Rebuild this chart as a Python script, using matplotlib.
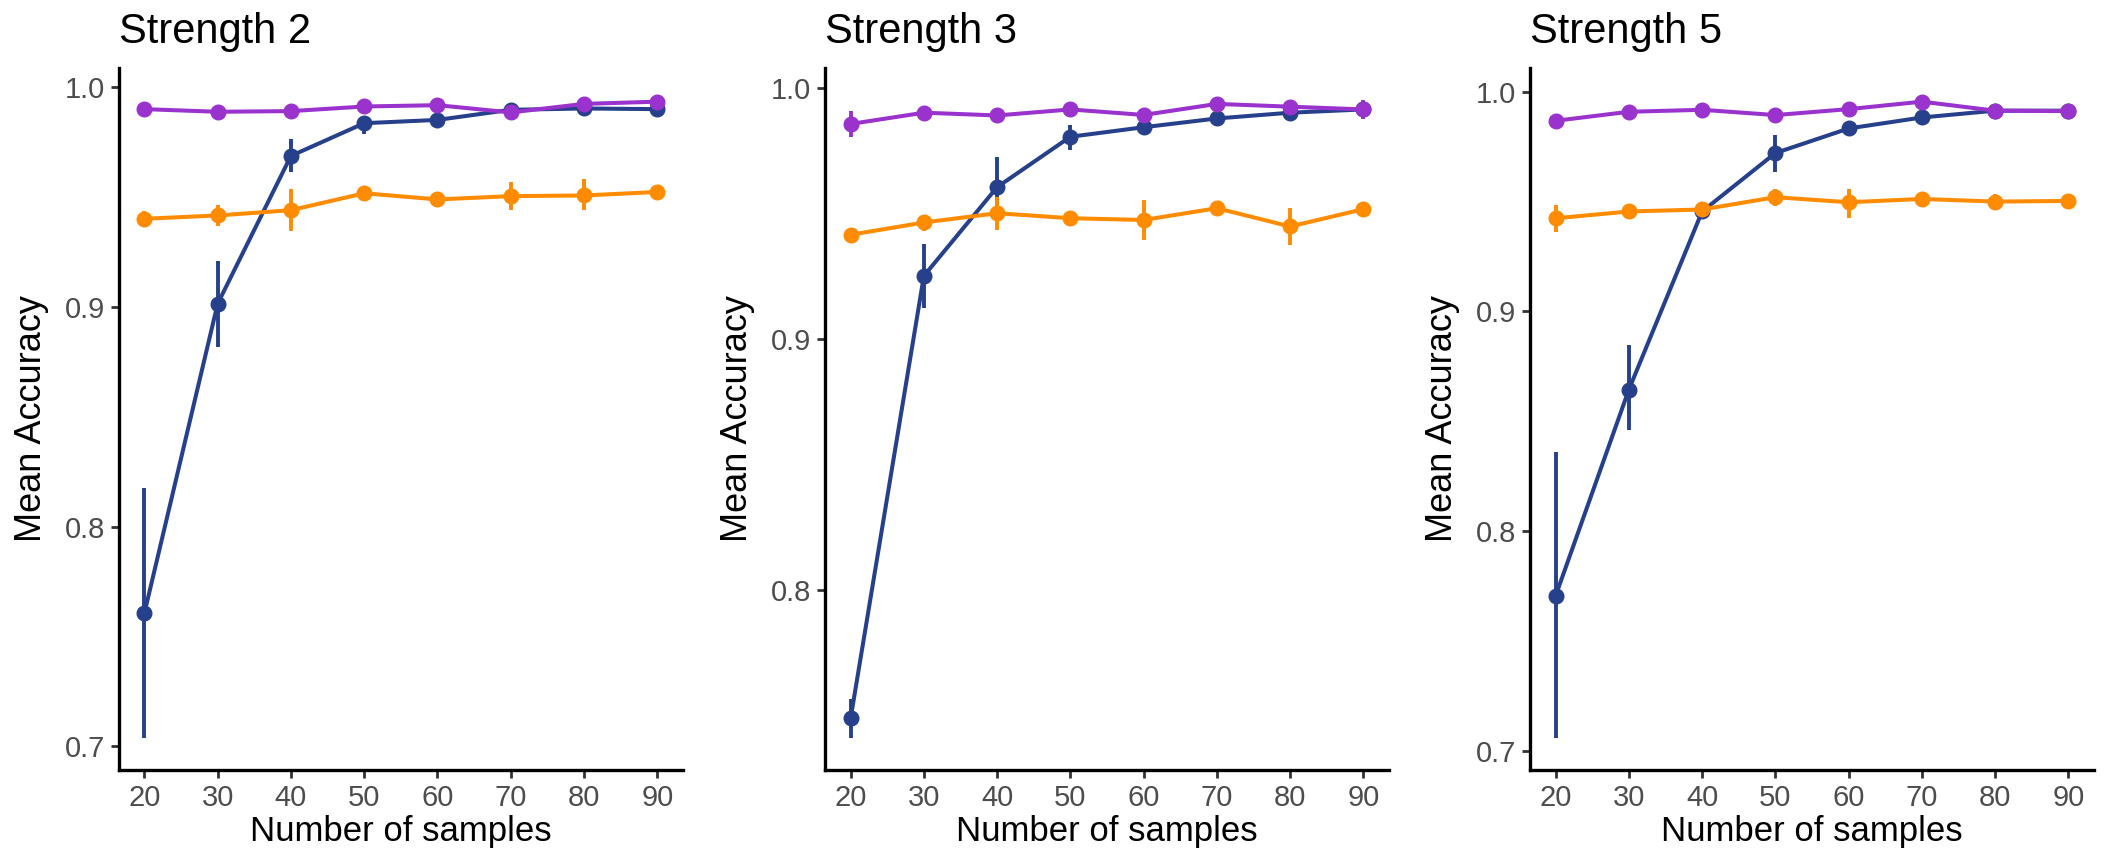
import numpy as np
import matplotlib
matplotlib.use("Agg")
import matplotlib.pyplot as plt

plt.rcParams['font.family'] = ['Liberation Sans', 'DejaVu Sans']

samples = [20, 30, 40, 50, 60, 70, 80, 90]
titles = ["Strength 2", "Strength 3", "Strength 5"]

# strength 2
s2_purple = [0.9901, 0.9889, 0.9892, 0.9913, 0.9919, 0.9886, 0.9925, 0.9935]
s2_purple_lo = [0.9893, 0.9881, 0.9884, 0.9905, 0.9911, 0.9878, 0.9917, 0.9927]
s2_purple_hi = [0.9909, 0.9897, 0.9900, 0.9921, 0.9927, 0.9894, 0.9933, 0.9943]
s2_blue = [0.7606, 0.9015, 0.9688, 0.9837, 0.9852, 0.9898, 0.9904, 0.9901]
s2_blue_lo = [0.7038, 0.8820, 0.9615, 0.9787, 0.9835, 0.9888, 0.9895, 0.9892]
s2_blue_hi = [0.8175, 0.9209, 0.9764, 0.9863, 0.9868, 0.9908, 0.9913, 0.9910]
s2_orange = [0.9402, 0.9417, 0.9441, 0.9518, 0.9490, 0.9505, 0.9508, 0.9524]
s2_orange_lo = [0.9366, 0.9368, 0.9346, 0.9505, 0.9478, 0.9441, 0.9441, 0.9512]
s2_orange_hi = [0.9438, 0.9463, 0.9536, 0.9531, 0.9502, 0.9569, 0.9581, 0.9536]

# strength 3
s3_purple = [0.9858, 0.9903, 0.9892, 0.9916, 0.9894, 0.9938, 0.9927, 0.9916]
s3_purple_lo = [0.9808, 0.9893, 0.9882, 0.9906, 0.9884, 0.9928, 0.9917, 0.9878]
s3_purple_hi = [0.9908, 0.9913, 0.9902, 0.9926, 0.9904, 0.9948, 0.9937, 0.9954]
s3_blue = [0.7487, 0.9252, 0.9606, 0.9807, 0.9845, 0.9880, 0.9903, 0.9916]
s3_blue_lo = [0.7408, 0.9124, 0.9502, 0.9754, 0.9815, 0.9870, 0.9893, 0.9906]
s3_blue_hi = [0.7564, 0.9380, 0.9728, 0.9854, 0.9868, 0.9890, 0.9913, 0.9926]
s3_orange = [0.9416, 0.9465, 0.9502, 0.9482, 0.9475, 0.9522, 0.9449, 0.9518]
s3_orange_lo = [0.9383, 0.9432, 0.9436, 0.9472, 0.9396, 0.9512, 0.9376, 0.9508]
s3_orange_hi = [0.9443, 0.9495, 0.9568, 0.9492, 0.9555, 0.9532, 0.9522, 0.9528]

# strength 5
s5_purple = [0.9868, 0.9909, 0.9918, 0.9894, 0.9921, 0.9955, 0.9914, 0.9912]
s5_purple_lo = [0.9860, 0.9901, 0.9910, 0.9886, 0.9913, 0.9947, 0.9906, 0.9904]
s5_purple_hi = [0.9876, 0.9917, 0.9926, 0.9902, 0.9929, 0.9963, 0.9922, 0.9920]
s5_blue = [0.7705, 0.8644, 0.9455, 0.9721, 0.9833, 0.9883, 0.9914, 0.9914]
s5_blue_lo = [0.7057, 0.8458, 0.9425, 0.9636, 0.9823, 0.9861, 0.9904, 0.9904]
s5_blue_hi = [0.8360, 0.8845, 0.9485, 0.9803, 0.9843, 0.9906, 0.9924, 0.9924]
s5_orange = [0.9424, 0.9455, 0.9464, 0.9520, 0.9497, 0.9512, 0.9500, 0.9503]
s5_orange_lo = [0.9361, 0.9425, 0.9454, 0.9482, 0.9424, 0.9502, 0.9465, 0.9493]
s5_orange_hi = [0.9485, 0.9485, 0.9474, 0.9558, 0.9558, 0.9522, 0.9535, 0.9513]

panels = [
    [(s2_blue, s2_blue_lo, s2_blue_hi), (s2_orange, s2_orange_lo, s2_orange_hi), (s2_purple, s2_purple_lo, s2_purple_hi)],
    [(s3_blue, s3_blue_lo, s3_blue_hi), (s3_orange, s3_orange_lo, s3_orange_hi), (s3_purple, s3_purple_lo, s3_purple_hi)],
    [(s5_blue, s5_blue_lo, s5_blue_hi), (s5_orange, s5_orange_lo, s5_orange_hi), (s5_purple, s5_purple_lo, s5_purple_hi)],
]
colors = ["#27408B", "#FF8C00", "#9A32CD"]

W, H = 2106, 856
fig = plt.figure(figsize=(W / 100, H / 100), dpi=100)
boxes = [(118.7, 683), (825, 1389), (1530, 2094)]
top, bottom = 68, 770

for i, (x0, x1) in enumerate(boxes):
    ax = fig.add_axes([x0 / W, (H - bottom) / H, (x1 - x0) / W, (bottom - top) / H])
    allv = []
    for (m, lo, hi), c in zip(panels[i], colors):
        m = np.array(m); lo = np.array(lo); hi = np.array(hi)
        allv += list(lo) + list(hi)
        ax.errorbar(samples, m, yerr=[m - lo, hi - m], color=c, lw=2.9,
                    elinewidth=2.8, marker="o", ms=10.5, capsize=0)
    lo_all, hi_all = min(allv), max(allv)
    pad = 0.05 * (hi_all - lo_all)
    ax.set_xlim(16.5, 93.5)
    ax.set_xticks(samples)
    ax.set_yticks([0.7, 0.8, 0.9, 1.0])
    ax.set_yticklabels(["0.7", "0.8", "0.9", "1.0"])
    ax.set_ylim(lo_all - pad, hi_all + pad)
    for s in ["top", "right"]:
        ax.spines[s].set_visible(False)
    for s in ["left", "bottom"]:
        ax.spines[s].set_linewidth(2.4)
        ax.spines[s].set_color("black")
    ax.tick_params(axis="both", length=6, width=2, color="#333333",
                   labelsize=21, labelcolor="#4D4D4D", pad=4)
    ax.set_xlabel("Number of samples", fontsize=25, labelpad=2)
    ax.set_ylabel("Mean Accuracy", fontsize=26, labelpad=11)
    ax.set_title(titles[i], fontsize=30, loc="left", pad=18)

fig.savefig("out.png", dpi=100)
